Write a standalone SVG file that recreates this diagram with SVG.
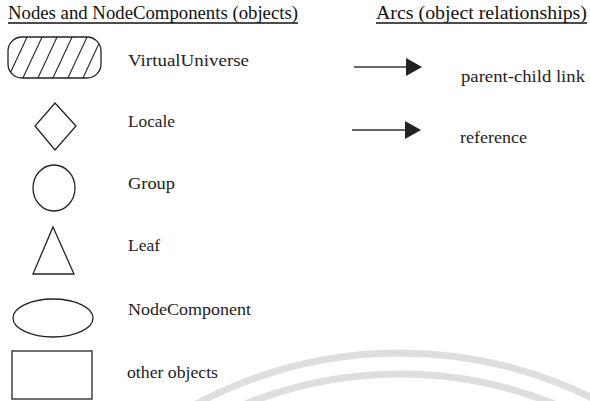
<svg xmlns="http://www.w3.org/2000/svg" width="590" height="401" viewBox="0 0 590 401">
  <style>
    .shape { fill: none; stroke: #222; stroke-width: 1.3; }
    .hatch { stroke: #222; stroke-width: 1.1; }
    .head { font-family: "Liberation Serif", "Times New Roman", serif; font-size: 19px; fill: #111; }
    .label { font-family: "Liberation Serif", "Times New Roman", serif; font-size: 17px; fill: #222; }
    .rule { stroke: #111; stroke-width: 1.5; }
    .arc { stroke: #333; stroke-width: 1.5; }
    .mark { fill: none; stroke: #dedede; stroke-width: 7; }
  </style>
  <defs>
    <marker id="arrow" viewBox="0 0 16 18" refX="0" refY="9" markerWidth="16" markerHeight="18" markerUnits="userSpaceOnUse" orient="auto">
      <path d="M0,0 L16,9 L0,18 Z" fill="#222"/>
    </marker>
    <clipPath id="vuClip">
      <rect x="8" y="37" width="93" height="41" rx="14" ry="14"/>
    </clipPath>
  </defs>

  <rect width="590" height="401" fill="#fff"/>

  <!-- background arcs -->
  <g id="backdrop">
    <circle class="mark" cx="400" cy="785" r="432"/>
    <circle class="mark" cx="400" cy="785" r="411" stroke-width="6"/>
  </g>

  <!-- column headings -->
  <g id="headings">
    <text class="head" x="8" y="19" textLength="290" lengthAdjust="spacingAndGlyphs">Nodes and NodeComponents (objects)</text>
    <line class="rule" x1="8" y1="23" x2="298" y2="23"/>
    <text class="head" x="376" y="19" textLength="211" lengthAdjust="spacingAndGlyphs">Arcs (object relationships)</text>
    <line class="rule" x1="376" y1="23" x2="587" y2="23"/>
  </g>

  <g id="virtual-universe">
    <g clip-path="url(#vuClip)">
      <line class="hatch" x1="-8" y1="80" x2="13" y2="35"/>
      <line class="hatch" x1="7" y1="80" x2="28" y2="35"/>
      <line class="hatch" x1="22" y1="80" x2="43" y2="35"/>
      <line class="hatch" x1="37" y1="80" x2="58" y2="35"/>
      <line class="hatch" x1="52" y1="80" x2="73" y2="35"/>
      <line class="hatch" x1="67" y1="80" x2="88" y2="35"/>
      <line class="hatch" x1="82" y1="80" x2="103" y2="35"/>
      <line class="hatch" x1="97" y1="80" x2="118" y2="35"/>
    </g>
    <rect class="shape" x="8" y="37" width="93" height="41" rx="14" ry="14"/>
    <text class="label" x="128" y="66" textLength="121" lengthAdjust="spacingAndGlyphs">VirtualUniverse</text>
  </g>

  <g id="locale">
    <path class="shape" d="M55,103 L76,126 L55,150 L35,126 Z"/>
    <text class="label" x="128" y="127" textLength="47" lengthAdjust="spacingAndGlyphs">Locale</text>
  </g>

  <g id="group">
    <ellipse class="shape" cx="54" cy="188" rx="21" ry="23"/>
    <text class="label" x="128" y="189" textLength="47" lengthAdjust="spacingAndGlyphs">Group</text>
  </g>

  <g id="leaf">
    <path class="shape" d="M53,227 L74,274 L33,274 Z"/>
    <text class="label" x="128" y="251" textLength="32" lengthAdjust="spacingAndGlyphs">Leaf</text>
  </g>

  <g id="node-component">
    <ellipse class="shape" cx="53" cy="318" rx="40" ry="19"/>
    <text class="label" x="128" y="315" textLength="123" lengthAdjust="spacingAndGlyphs">NodeComponent</text>
  </g>

  <g id="other-objects">
    <rect class="shape" x="12" y="351" width="80" height="48"/>
    <text class="label" x="127" y="378" textLength="91" lengthAdjust="spacingAndGlyphs">other objects</text>
  </g>

  <!-- arc legend -->
  <g id="connectors">
    <line class="arc" x1="354" y1="67" x2="406" y2="67" marker-end="url(#arrow)"/>
    <line class="arc" x1="352" y1="130" x2="405" y2="130" marker-end="url(#arrow)"/>
  </g>
  <g id="arc-labels">
    <text class="label" x="461" y="82" textLength="124" lengthAdjust="spacingAndGlyphs">parent-child link</text>
    <text class="label" x="460" y="143" textLength="67" lengthAdjust="spacingAndGlyphs">reference</text>
  </g>
</svg>
